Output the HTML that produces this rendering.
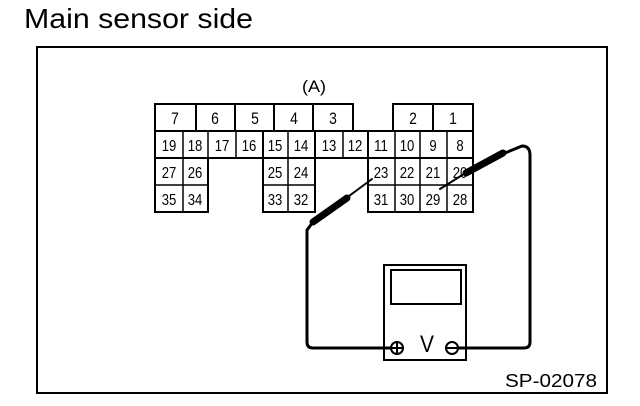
<!DOCTYPE html>
<html><head><meta charset="utf-8"><style>
html,body{margin:0;padding:0;background:#fff;width:640px;height:406px;overflow:hidden}
svg{display:block}
text{font-family:"Liberation Sans",sans-serif;fill:#000}
.n text{transform-box:fill-box;transform-origin:center;transform:scaleX(.82)}
</style></head><body>
<svg width="640" height="406" viewBox="0 0 640 406" xmlns="http://www.w3.org/2000/svg">
<text x="24" y="28" font-size="28" textLength="229" lengthAdjust="spacingAndGlyphs">Main sensor side</text>
<rect x="37" y="47" width="570" height="346" fill="none" stroke="#000" stroke-width="2"/>
<text x="314" y="92" font-size="17" text-anchor="middle" textLength="24" lengthAdjust="spacingAndGlyphs">(A)</text>
<g fill="none" stroke="#000" stroke-width="2">
<rect x="155" y="104" width="198" height="27"/>
<rect x="393" y="104" width="80" height="27"/>
<line x1="196" y1="104" x2="196" y2="131"/>
<line x1="235" y1="104" x2="235" y2="131"/>
<line x1="274" y1="104" x2="274" y2="131"/>
<line x1="313" y1="104" x2="313" y2="131"/>
<line x1="433" y1="104" x2="433" y2="131"/>
<rect x="155" y="131" width="318" height="27"/>
<g stroke-width="1.5">
<line x1="183" y1="131" x2="183" y2="212"/>
<line x1="208" y1="131" x2="208" y2="158"/>
<line x1="236" y1="131" x2="236" y2="158"/>
<line x1="288" y1="131" x2="288" y2="212"/>
<line x1="315" y1="131" x2="315" y2="158"/>
<line x1="343" y1="131" x2="343" y2="158"/>
<line x1="395" y1="131" x2="395" y2="212"/>
<line x1="420" y1="131" x2="420" y2="212"/>
<line x1="447" y1="131" x2="447" y2="212"/>
<line x1="155" y1="185" x2="208" y2="185"/>
<line x1="263" y1="185" x2="315" y2="185"/>
<line x1="368" y1="185" x2="473" y2="185"/>
</g>
<rect x="155" y="158" width="53" height="54"/>
<rect x="263" y="131" width="52" height="81"/>
<rect x="368" y="131" width="105" height="81"/>
<rect x="384" y="265" width="82" height="95"/>
<rect x="391" y="270" width="70" height="34"/>
<path d="M313 222 L307 230 L307 342 Q307 348 313 348 L391 348" stroke-width="3"/>
<path d="M458 348 L524 348 Q530 348 530 342 L530 155 Q530 146 522 146 L505 153" stroke-width="3"/>
</g>
<g class="n" font-size="17" text-anchor="middle">
<text x="175" y="124">7</text><text x="215" y="124">6</text><text x="255" y="124">5</text><text x="294" y="124">4</text><text x="333" y="124">3</text><text x="413" y="124">2</text><text x="453" y="124">1</text>
</g>
<g class="n" font-size="16" text-anchor="middle">
<text x="169" y="151">19</text><text x="195" y="151">18</text><text x="222" y="151">17</text><text x="249" y="151">16</text><text x="275" y="151">15</text><text x="301" y="151">14</text><text x="329" y="151">13</text><text x="355" y="151">12</text><text x="381" y="151">11</text><text x="407" y="151">10</text><text x="433" y="151">9</text><text x="460" y="151">8</text>
<text x="169" y="178">27</text><text x="195" y="178">26</text><text x="275" y="178">25</text><text x="301" y="178">24</text><text x="381" y="178">23</text><text x="407" y="178">22</text><text x="433" y="178">21</text><text x="460" y="178">20</text>
<text x="169" y="205">35</text><text x="195" y="205">34</text><text x="275" y="205">33</text><text x="301" y="205">32</text><text x="381" y="205">31</text><text x="407" y="205">30</text><text x="433" y="205">29</text><text x="460" y="205">28</text>
</g>
<g stroke="#000" stroke-linecap="round">
<line x1="372" y1="179" x2="345" y2="199" stroke-width="2"/>
<line x1="347" y1="198" x2="313" y2="222" stroke-width="7"/>
<line x1="440" y1="189" x2="467" y2="172" stroke-width="2"/>
<line x1="466" y1="173" x2="503" y2="153" stroke-width="7"/>
</g>
<g fill="none" stroke="#000" stroke-width="2">
<circle cx="397" cy="348" r="6" fill="#fff"/>
<line x1="392" y1="348" x2="402" y2="348"/><line x1="397" y1="343" x2="397" y2="353"/>
<circle cx="452" cy="348" r="6" fill="#fff"/>
<line x1="447" y1="348" x2="457" y2="348"/>
</g>
<text x="427" y="352" font-size="24" text-anchor="middle" textLength="14" lengthAdjust="spacingAndGlyphs">V</text>
<text x="597" y="387" font-size="18" text-anchor="end" textLength="92" lengthAdjust="spacingAndGlyphs">SP-02078</text>
</svg>
</body></html>
